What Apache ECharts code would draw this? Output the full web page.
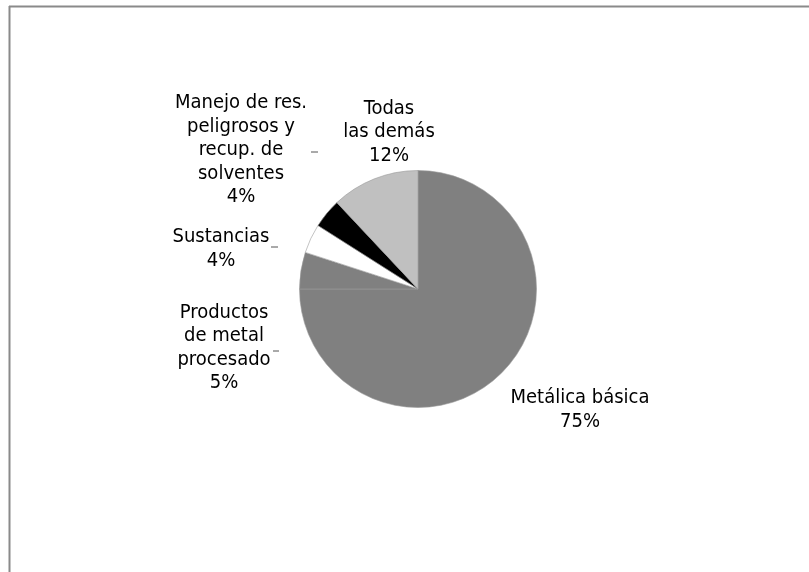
<!DOCTYPE html>
<html>
<head>
<meta charset="utf-8">
<title>Distribución por sector</title>
<script src="https://cdn.jsdelivr.net/npm/echarts@6/dist/echarts.min.js"></script>
<style>
  html, body { margin: 0; padding: 0; background: #ffffff; }
  #chart { width: 809px; height: 572px; }
</style>
</head>
<body>
<div id="chart"></div>
<script>
// Sector names (line breaks as shown in the labels) and their shares in percent
const sectors = [
  'Metálica básica',
  'Productos\nde metal\nprocesado',
  'Sustancias',
  'Manejo de res.\npeligrosos y\nrecup. de\nsolventes',
  'Todas\nlas demás'
];
const shares = [75, 5, 4, 4, 12];
const sliceColors = ['#808080', '#808080', '#ffffff', '#000000', '#c0c0c0'];

// Label anchor (centre of each text block) and the short leader stub next to it
const labelSpots = [
  { x: 580, y: 410, stub: null },
  { x: 224, y: 348, stub: [[273, 351], [276, 351], [279, 351]] },
  { x: 221, y: 249, stub: [[271, 247], [274, 247], [278, 247]] },
  { x: 241, y: 150, stub: [[311, 152], [314, 152], [318, 152]] },
  { x: 389, y: 132, stub: [[389, 148], [389, 151], [389, 155]] }
];

const chart = echarts.init(document.getElementById('chart'), null, { renderer: 'canvas' });

const FONT = '"DejaVu Sans Condensed", "Liberation Sans Narrow", "Roboto", sans-serif';

chart.setOption({
  backgroundColor: '#ffffff',
  animation: false,
  graphic: [
    // plot frame: top and left edges
    { type: 'line', shape: { x1: 9, y1: 6.5, x2: 809, y2: 6.5 }, style: { stroke: '#8a8a8a', lineWidth: 2 }, silent: true },
    { type: 'line', shape: { x1: 9.5, y1: 6, x2: 9.5, y2: 572 }, style: { stroke: '#8a8a8a', lineWidth: 2 }, silent: true }
  ],
  series: [{
    type: 'pie',
    center: [418, 289],
    radius: 118.5,
    startAngle: 90,
    clockwise: true,
    avoidLabelOverlap: false,
    data: sectors.map((name, i) => ({
      name: name,
      value: shares[i],
      itemStyle: { color: sliceColors[i] }
    })),
    itemStyle: { borderColor: '#9a9a9a', borderWidth: 0.6 },
    emphasis: { disabled: true },
    label: {
      show: true,
      position: 'outside',
      formatter: p => p.name + '\n' + p.value + '%',
      fontFamily: FONT,
      fontSize: 20,
      lineHeight: 23.5,
      color: '#000000',
      align: 'center'
    },
    labelLine: {
      show: true,
      lineStyle: { color: '#555555', width: 1 }
    },
    labelLayout: function (params) {
      const spot = labelSpots[params.dataIndex];
      const res = { x: spot.x, y: spot.y, align: 'center', verticalAlign: 'middle' };
      res.labelLinePoints = spot.stub || [[spot.x, spot.y], [spot.x, spot.y], [spot.x, spot.y]];
      return res;
    }
  }]
});
</script>
</body>
</html>
